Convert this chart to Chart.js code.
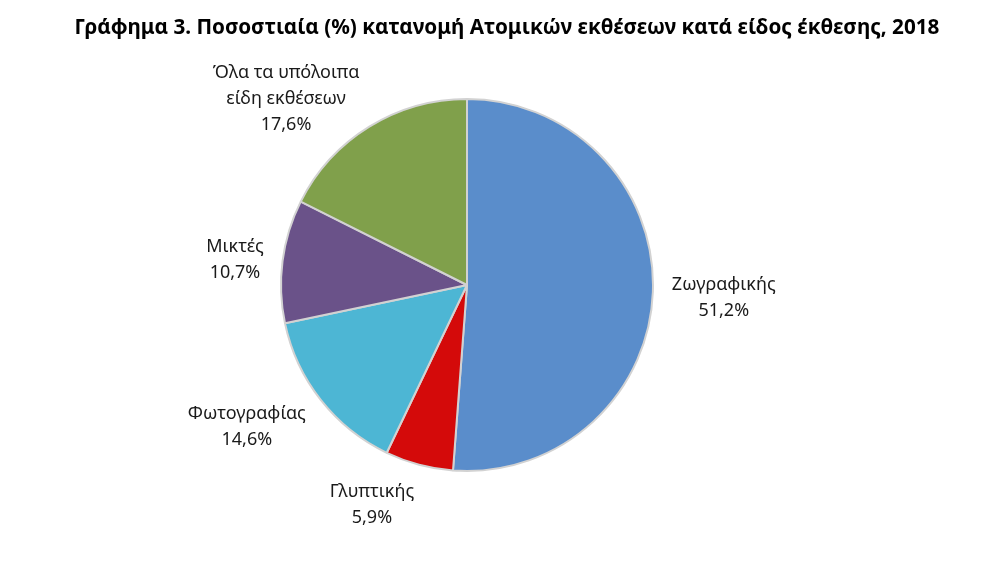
<!DOCTYPE html>
<html>
<head>
<meta charset="utf-8">
<script src="https://cdn.jsdelivr.net/npm/chart.js@4"></script>
<style>
    body { margin: 0; background: #fff; }
    #wrap { width: 1000px; height: 563px; }
</style>
</head>
<body>
<div id="wrap"><canvas id="pie-chart" width="1000" height="563"></canvas></div>
<script>
const chartTitle = 'Γράφημα 3. Ποσοστιαία (%) κατανομή Ατομικών εκθέσεων κατά είδος έκθεσης, 2018';
const categories = ['Ζωγραφικής', 'Γλυπτικής', 'Φωτογραφίας', 'Μικτές', 'Όλα τα υπόλοιπα είδη εκθέσεων'];
const labelLines = [['Ζωγραφικής'], ['Γλυπτικής'], ['Φωτογραφίας'], ['Μικτές'], ['Όλα τα υπόλοιπα', 'είδη εκθέσεων']];
const shares = [51.2, 5.9, 14.6, 10.7, 17.6];
const colors = ['#5a8dcb', '#d40a0a', '#4db6d4', '#6a5289', '#80a04b'];

const labelFont = '18px "Noto Sans", sans-serif';
const lineH = 26;

// title drawn by hand so it can sit centred on the page, not over the pie
const pageTitle = {
    id: 'pageTitle',
    afterDraw(chart) {
        const ctx = chart.ctx;
        ctx.save();
        ctx.font = 'bold 20.7px "Noto Sans", sans-serif';
        ctx.fillStyle = '#000';
        ctx.textAlign = 'center';
        ctx.textBaseline = 'middle';
        ctx.fillText(chartTitle, chart.width / 2 + 7, 28);
        ctx.restore();
    }
};

// labels outside each slice, like excel's "outside end"
const outsideLabels = {
    id: 'outsideLabels',
    afterDatasetsDraw(chart) {
        const ctx = chart.ctx;
        const arcs = chart.getDatasetMeta(0).data;
        ctx.save();
        ctx.font = labelFont;
        ctx.fillStyle = '#1a1a1a';
        ctx.textAlign = 'center';
        ctx.textBaseline = 'middle';
        arcs.forEach((arc, i) => {
            const lines = labelLines[i].concat([shares[i].toFixed(1).replace('.', ',') + '%']);
            const w = Math.max(...lines.map(l => ctx.measureText(l).width));
            const h = lines.length * lineH;
            const mid = (arc.startAngle + arc.endAngle) / 2;
            const r = arc.outerRadius + 19;
            const c = Math.cos(mid), s = Math.sin(mid);
            const ax = arc.x + c * r;
            const ay = arc.y + s * r;
            const cx = ax + Math.sign(c) * w / 2;
            const cy = ay + s * 18 + 4;
            lines.forEach((l, j) => {
                ctx.fillText(l, cx, cy - h / 2 + lineH * (j + 0.5));
            });
        });
        ctx.restore();
    }
};

const ctx = document.getElementById('pie-chart').getContext('2d');
new Chart(ctx, {
    type: 'pie',
    data: {
        labels: categories,
        datasets: [{
            data: shares,
            backgroundColor: colors,
            borderColor: '#d2d2d2',
            borderWidth: 2
        }]
    },
    options: {
        responsive: false,
        animation: false,
        layout: { padding: { top: 98, bottom: 91, left: 0, right: 66 } },
        plugins: {
            legend: { display: false },
            tooltip: { enabled: false },
            title: { display: false }
        }
    },
    plugins: [outsideLabels, pageTitle]
});
</script>
</body>
</html>
